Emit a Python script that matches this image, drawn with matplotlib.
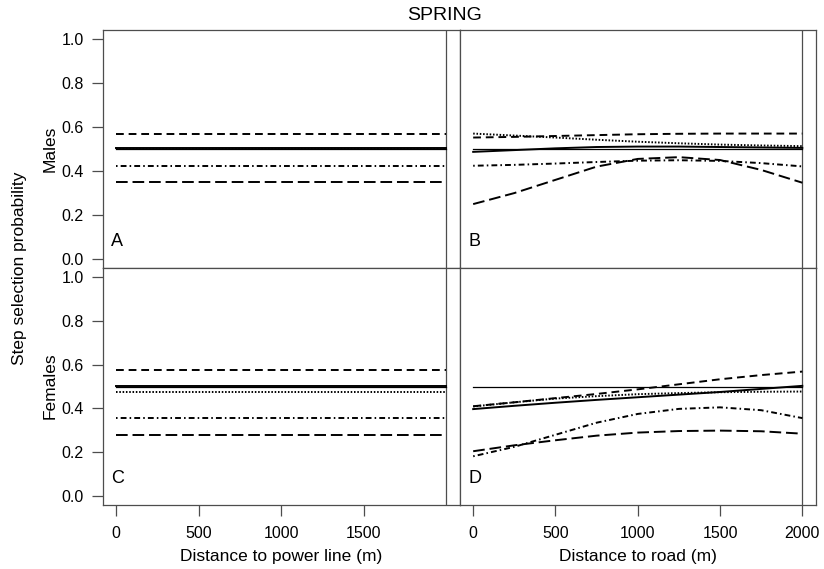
import numpy as np
import matplotlib.pyplot as plt

plt.rcParams['font.family'] = ['Liberation Sans', 'DejaVu Sans']

# distance grid used for the fitted curves (m)
dist = [0, 250, 500, 750, 1000, 1250, 1500, 1750, 2000]
flat = [0, 2000]

# panel A: males, power line (flat predictions)
a_solid = [0.504, 0.504]
a_dot = [0.500, 0.500]
a_dash = [0.570, 0.570]
a_dashdot = [0.422, 0.422]
a_longdash = [0.348, 0.348]

# panel B: males, road
b_solid = [0.487, 0.495, 0.503, 0.509, 0.511, 0.511, 0.509, 0.507, 0.505]
b_dot = [0.570, 0.561, 0.552, 0.542, 0.533, 0.526, 0.520, 0.516, 0.513]
b_dash = [0.552, 0.555, 0.559, 0.563, 0.567, 0.569, 0.570, 0.570, 0.570]
b_dashdot = [0.424, 0.428, 0.434, 0.441, 0.447, 0.449, 0.446, 0.436, 0.421]
b_longdash = [0.250, 0.300, 0.360, 0.420, 0.455, 0.463, 0.450, 0.405, 0.347]

# panel C: females, power line (flat predictions)
c_solid = [0.503, 0.503]
c_dot = [0.474, 0.474]
c_dash = [0.573, 0.573]
c_dashdot = [0.358, 0.358]
c_longdash = [0.280, 0.280]

# panel D: females, road
d_solid = [0.397, 0.412, 0.426, 0.439, 0.451, 0.463, 0.475, 0.489, 0.503]
d_dot = [0.409, 0.428, 0.445, 0.456, 0.465, 0.470, 0.474, 0.476, 0.477]
d_dash = [0.410, 0.428, 0.447, 0.466, 0.487, 0.510, 0.533, 0.552, 0.568]
d_dashdot = [0.182, 0.225, 0.280, 0.335, 0.375, 0.398, 0.405, 0.392, 0.356]
d_longdash = [0.205, 0.232, 0.255, 0.276, 0.290, 0.297, 0.299, 0.296, 0.285]

ref_level = [0.5, 0.5]

yticks = [0.0, 0.2, 0.4, 0.6, 0.8, 1.0]
xticks_pl = [0, 500, 1000, 1500]
xticks_rd = [0, 500, 1000, 1500, 2000]

W, H = 824, 569
fig = plt.figure(figsize=(W / 100, H / 100), dpi=100)

def px_axes(x0, y0, x1, y1):
    return fig.add_axes([x0 / W, 1 - y1 / H, (x1 - x0) / W, (y1 - y0) / H])

frame = '#4d4d4d'
lw = 1.4
styles = {
    'solid': dict(ls='-', lw=lw),
    'dot': dict(ls=(0, (0.8, 0.9)), lw=lw),
    'dash': dict(ls=(0, (4, 2.5)), lw=lw),
    'dashdot': dict(ls=(0, (0.8, 1.6, 3, 1.6)), lw=lw),
    'longdash': dict(ls=(0, (6, 2.5)), lw=lw),
}

panels = [
    ('A', (103, 30, 459.5, 268), flat, [a_solid, a_dot, a_dash, a_dashdot, a_longdash]),
    ('B', (460, 30, 815.5, 268), dist, [b_solid, b_dot, b_dash, b_dashdot, b_longdash]),
    ('C', (103, 268, 459.5, 505), flat, [c_solid, c_dot, c_dash, c_dashdot, c_longdash]),
    ('D', (460, 268, 815.5, 505), dist, [d_solid, d_dot, d_dash, d_dashdot, d_longdash]),
]

fs = 11.5
for name, box, xs, series in panels:
    ax = px_axes(*box)
    ax.set_xlim(-80, 2080)
    ax.set_ylim(-0.04, 1.04)
    for sp in ax.spines.values():
        sp.set_color(frame)
        sp.set_linewidth(0.9)
    ax.axvline(2000, color=frame, lw=0.9)
    ax.plot(flat, ref_level, color='black', lw=0.9)
    for key, ys in zip(['solid', 'dot', 'dash', 'dashdot', 'longdash'], series):
        ax.plot(xs, ys, color='black', **styles[key])
    ax.text(-30, 0.08, name, fontsize=fs + 1.5, ha='left', va='center')
    ax.tick_params(length=8, width=0.9, color=frame, labelsize=fs)
    if name in 'AC':
        ax.set_yticks(yticks)
        ax.set_yticklabels(['%.1f' % v for v in yticks])
        ax.tick_params(axis='y', pad=6)
    else:
        ax.set_yticks([])
    if name == 'C':
        ax.set_xticks(xticks_pl)
        ax.set_xlabel('Distance to power line (m)', fontsize=fs + 1, labelpad=6)
    elif name == 'D':
        ax.set_xticks(xticks_rd)
        ax.set_xlabel('Distance to road (m)', fontsize=fs + 1, labelpad=6)
    else:
        ax.set_xticks([])
    ax.tick_params(axis='x', pad=7)

fig.text(445 / W, 1 - 16 / H, 'SPRING', fontsize=14, ha='center', va='center')
fig.text(20 / W, 1 - 268 / H, 'Step selection probability', fontsize=fs + 1,
         rotation=90, ha='center', va='center')
fig.text(50 / W, 1 - 149 / H, 'Males', fontsize=fs + 1, rotation=90, ha='center', va='center')
fig.text(50 / W, 1 - 386 / H, 'Females', fontsize=fs + 1, rotation=90, ha='center', va='center')

fig.savefig('out.png', dpi=100)
